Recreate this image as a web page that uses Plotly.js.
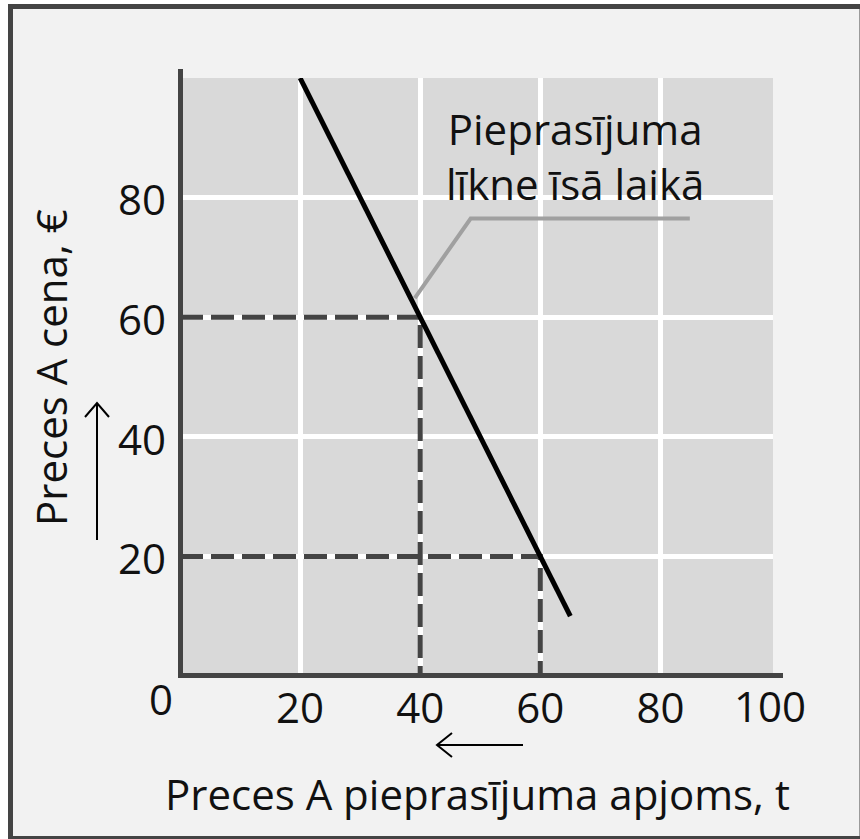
<!DOCTYPE html>
<html>
<head>
<meta charset="utf-8">
<script src="https://cdn.plot.ly/plotly-3.0.1.min.js"></script>
<style>html,body{margin:0;padding:0;background:#fff;}#chart{width:860px;height:839px;}</style>
</head>
<body>
<div id="chart"></div>
<script>
// ---- data ----
const demandQ = [20, 65];
const demandP = [100, 10];
const pointQ = [40, 60];
const pointP = [60, 20];
const leaderQ = [39.1, 48.4, 84.9];
const leaderP = [63.2, 76.5, 76.5];
const xTickVals = [20, 40, 60, 80];
const xTickText = ['20', '40', '60', '80'];
const yTickVals = [20, 40, 60, 80];
const yTickText = ['20', '40', '60', '80'];
const curveLabel = 'Pieprasījuma<br>līkne īsā laikā';
const xTitle = 'Preces A pieprasījuma apjoms, t';
const yTitle = 'Preces A cena, €';

// ---- layout helpers (pixel -> paper) ----
const L = 180, T = 78, W = 593, H = 598;
const px = (x) => (x - L) / W;
const py = (y) => (T + H - y) / H;
const pt = (x, y) => px(x) + ',' + py(y);

const FONT = '"Open Sans", "Noto Sans", sans-serif';
const TXT = '#111';
const FS = 42;

const traces = [];
for (let i = 0; i < pointQ.length; i++) {
  traces.push({
    x: [0, pointQ[i], pointQ[i]],
    y: [pointP[i], pointP[i], 0],
    mode: 'lines', hoverinfo: 'skip', showlegend: false,
    line: {color: '#444', width: 5, dash: '23px,8px'}
  });
}
traces.push({
  x: leaderQ, y: leaderP, mode: 'lines', hoverinfo: 'skip', showlegend: false,
  line: {color: '#a0a0a0', width: 4}
});
traces.push({
  x: demandQ, y: demandP, mode: 'lines', hoverinfo: 'skip', showlegend: false,
  line: {color: '#000', width: 5}
});

const layout = {
  width: 860, height: 839,
  margin: {l: L, r: 860 - L - W, t: T, b: 839 - T - H, pad: 0},
  paper_bgcolor: '#ffffff',
  plot_bgcolor: 'rgba(0,0,0,0)',
  showlegend: false,
  font: {family: FONT, size: FS, color: TXT},
  xaxis: {
    range: [0, 98.75], dtick: 10, tick0: 0,
    showgrid: true, gridcolor: '#ffffff', gridwidth: 5,
    zeroline: false, showline: false,
    tickmode: 'array', tickvals: xTickVals, ticktext: xTickText,
    ticks: '', ticklabelstandoff: 4,
    tickfont: {family: FONT, size: FS, color: TXT},
    fixedrange: true
  },
  yaxis: {
    range: [0, 100],
    showgrid: true, gridcolor: '#ffffff', gridwidth: 5,
    zeroline: false, showline: false,
    tickmode: 'array', tickvals: yTickVals, ticktext: yTickText,
    ticks: '', ticklabelstandoff: 13, ticklabelshift: 3,
    tickfont: {family: FONT, size: FS, color: TXT},
    fixedrange: true
  },
  shapes: [
    {type: 'rect', xref: 'paper', yref: 'paper', layer: 'below',
     x0: px(10.5), x1: px(862), y0: py(838.5), y1: py(6.5),
     line: {color: '#444', width: 5}, fillcolor: '#f2f2f2'},
    {type: 'rect', xref: 'x', yref: 'y', layer: 'below',
     x0: 0, x1: 98.75, y0: 0, y1: 100,
     line: {width: 0}, fillcolor: '#d9d9d9'},
    {type: 'line', xref: 'paper', yref: 'paper', layer: 'above',
     x0: px(180.5), x1: px(180.5), y0: py(678), y1: py(69),
     line: {color: '#444', width: 5}},
    {type: 'line', xref: 'paper', yref: 'paper', layer: 'above',
     x0: px(178), x1: px(783), y0: py(675.5), y1: py(675.5),
     line: {color: '#444', width: 5}},
    {type: 'path', xref: 'paper', yref: 'paper', layer: 'above',
     path: 'M' + pt(97, 540) + 'L' + pt(97, 404) + 'M' + pt(85, 417) + 'L' + pt(97, 403) + 'L' + pt(109, 417),
     line: {color: '#000', width: 2}},
    {type: 'path', xref: 'paper', yref: 'paper', layer: 'above',
     path: 'M' + pt(523, 745) + 'L' + pt(438, 745) + 'M' + pt(452, 733) + 'L' + pt(437, 745) + 'L' + pt(452, 757),
     line: {color: '#000', width: 2}}
  ],
  annotations: [
    {text: curveLabel, xref: 'paper', yref: 'paper', x: px(575), y: py(156),
     xanchor: 'center', yanchor: 'middle', align: 'center', showarrow: false,
     font: {family: FONT, size: FS, color: TXT}},
    {text: '0', xref: 'paper', yref: 'paper', x: px(161), y: py(698),
     xanchor: 'center', yanchor: 'middle', showarrow: false,
     font: {family: FONT, size: FS, color: TXT}},
    {text: '100', xref: 'paper', yref: 'paper', x: px(770), y: py(705),
     xanchor: 'center', yanchor: 'middle', showarrow: false,
     font: {family: FONT, size: FS, color: TXT}},
    {text: xTitle, xref: 'paper', yref: 'paper', x: px(477.5), y: py(793),
     xanchor: 'center', yanchor: 'middle', showarrow: false,
     font: {family: FONT, size: FS, color: TXT}},
    {text: yTitle, xref: 'paper', yref: 'paper', x: px(50), y: py(368),
     xanchor: 'center', yanchor: 'middle', textangle: -90, showarrow: false,
     font: {family: FONT, size: FS, color: TXT}}
  ]
};

Plotly.newPlot('chart', traces, layout, {displayModeBar: false, staticPlot: true});
</script>
</body>
</html>
